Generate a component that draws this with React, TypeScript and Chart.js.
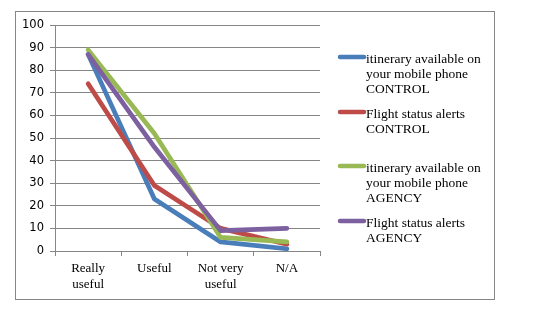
import React, { useEffect, useRef } from "react";
import { Chart, registerables } from "chart.js";

Chart.register(...registerables);

const categories: string[][] = [["Really", "useful"], ["Useful"], ["Not very", "useful"], ["N/A"]];
const seriesLabels: string[][] = [
  ["itinerary available on", "your mobile phone", "CONTROL"],
  ["Flight status alerts", "CONTROL"],
  ["itinerary available on", "your mobile phone", "AGENCY"],
  ["Flight status alerts", "AGENCY"],
];
const itineraryControl = [87, 23, 4, 1];
const flightControl = [74, 29, 10, 3];
const itineraryAgency = [89, 52, 6, 4];
const flightAgency = [87, 46, 9, 10];
const seriesColors = ["#4A7EBB", "#BE4B48", "#98B954", "#7D60A0"];
const legendRowY = [57, 112, 166, 221];

const SERIF = "'Liberation Serif', 'Times New Roman', serif";

const framePlugin = {
  id: "frame",
  beforeDraw(chart: any) {
    const ctx = chart.ctx;
    ctx.save();
    ctx.strokeStyle = "#868686";
    ctx.lineWidth = 1;
    ctx.strokeRect(15.5, 11.5, 479, 288);
    ctx.restore();
  },
  afterDraw(chart: any) {
    const ctx = chart.ctx;
    ctx.save();
    ctx.font = "13.5px " + SERIF;
    ctx.textBaseline = "middle";
    ctx.fillStyle = "#000";
    seriesLabels.forEach((lines, i) => {
      const y0 = legendRowY[i];
      ctx.strokeStyle = seriesColors[i];
      ctx.lineWidth = 4.5;
      ctx.lineCap = "round";
      ctx.beginPath();
      ctx.moveTo(340, y0);
      ctx.lineTo(364, y0);
      ctx.stroke();
      lines.forEach((t, j) => {
        ctx.fillText(t, 366, y0 + 2 + j * 15.3);
      });
    });
    ctx.restore();
  },
};

export default function App() {
  const ref = useRef<HTMLCanvasElement>(null);
  useEffect(() => {
    if (!ref.current) return;
    const data = [itineraryControl, flightControl, itineraryAgency, flightAgency];
    const chart = new Chart(ref.current, {
      type: "line",
      data: {
        labels: categories as any,
        datasets: data.map((d, i) => ({
          label: seriesLabels[i].join(" "),
          data: d,
          borderColor: seriesColors[i],
          backgroundColor: seriesColors[i],
          borderWidth: 4.7,
          pointRadius: 0,
          borderCapStyle: "round" as const,
          borderJoinStyle: "round" as const,
          tension: 0,
          order: 4 - i,
        })),
      },
      options: {
        animation: false,
        responsive: false,
        maintainAspectRatio: false,
        layout: { padding: { left: 0, right: 229, top: 25, bottom: 0 } },
        plugins: { legend: { display: false }, tooltip: { enabled: false } },
        scales: {
          x: {
            offset: true,
            grid: { display: true, drawOnChartArea: false, drawTicks: true, tickLength: 5, offset: true, color: "#868686" },
            border: { display: true, color: "#868686" },
            ticks: { font: { family: SERIF, size: 13, lineHeight: 1.25 }, color: "#000", padding: 4, maxRotation: 0, autoSkip: false },
            afterFit(scale: any) { scale.height = 72; },
          },
          y: {
            min: 0,
            max: 100,
            ticks: { stepSize: 10, font: { family: "'DejaVu Sans', sans-serif", size: 11.5 }, color: "#000", padding: 6 },
            grid: { color: "#868686", tickLength: 5, drawTicks: true },
            border: { display: true, color: "#868686" },
            afterFit(scale: any) { scale.width = 55; },
          },
        },
      },
      plugins: [framePlugin],
    });
    return () => chart.destroy();
  }, []);
  return (
    <div style={{ position: "fixed", left: 0, top: 0, width: 549, height: 323, background: "#fff" }}>
      <canvas ref={ref} width={549} height={323} style={{ width: 549, height: 323 }} />
    </div>
  );
}
